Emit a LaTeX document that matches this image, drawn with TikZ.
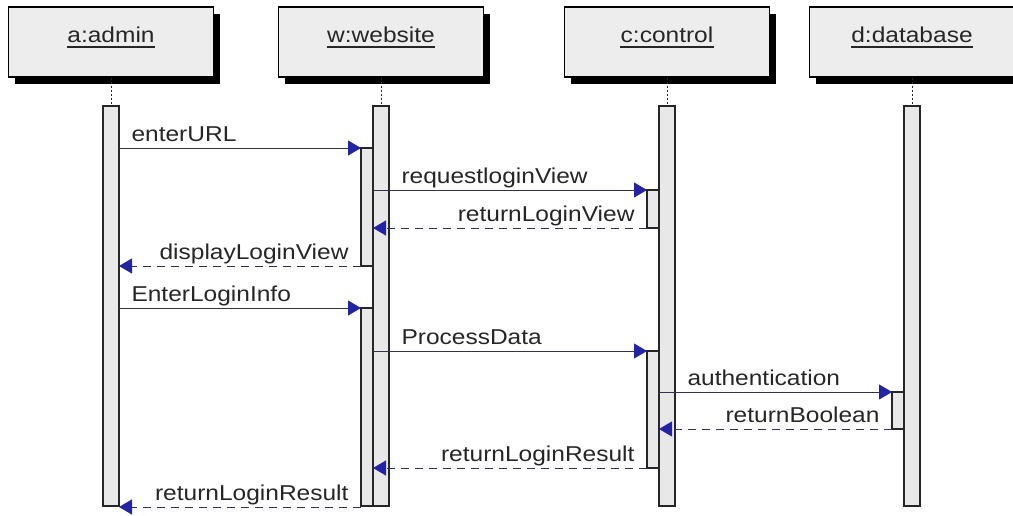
\documentclass[tikz,border=0pt]{standalone}
\usepackage{fontspec}
\setmainfont{Liberation Sans}[FakeStretch=1.14]
\usetikzlibrary{arrows.meta, calc}

\definecolor{msgline}{HTML}{33334D}
\definecolor{tipblue}{HTML}{2323A6}
\definecolor{headfill}{HTML}{EDEDED}
\definecolor{barfill}{HTML}{E8E8E8}
\definecolor{inkgray}{HTML}{262626}

\tikzset{
	head/.style={draw=black, line width=1.3pt, fill=headfill, minimum width=205pt, minimum height=70pt, inner sep=0pt},
	headname/.style={anchor=base, inner sep=0pt, text=inkgray},
	life/.style={draw=inkgray, line width=1pt, dash pattern=on 2pt off 2pt},
	bar/.style={draw=inkgray, line width=1.2pt, fill=barfill},
	msg/.style={draw=msgline, line width=1pt, -{Triangle[length=13pt, width=15pt, color=tipblue, fill=tipblue]}},
	ret/.style={msg, dash pattern=on 8pt off 6pt},
	fwd/.style={anchor=base west, inner sep=0pt, text=inkgray, pos=0, xshift=12pt, yshift=7pt},
	back/.style={anchor=base east, inner sep=0pt, text=inkgray, pos=0, xshift=-12pt, yshift=7pt}
}

\begin{document}
\begin{tikzpicture}[x=1pt, y=-1pt, font=\fontsize{21.5pt}{24pt}\selectfont]
	\def\xa{111}
	\def\xw{381}
	\def\xc{667}
	\def\xd{912}
	\def\hw{102.5}
	\def\sh{6.5}
	\def\bot{506}

	\useasboundingbox (0,0) rectangle (1013,515);

	% heads with shadow
	\fill[black] ({\xa-\hw+\sh},{7+\sh}) rectangle ({\xa+\hw+\sh},{77+\sh});
	\fill[black] ({\xw-\hw+\sh},{7+\sh}) rectangle ({\xw+\hw+\sh},{77+\sh});
	\fill[black] ({\xc-\hw+\sh},{7+\sh}) rectangle ({\xc+\hw+\sh},{77+\sh});
	\fill[black] ({\xd-\hw+\sh},{7+\sh}) rectangle ({\xd+\hw+\sh},{77+\sh});
	\node[head] (adminbox) at (\xa,42) {};
	\node[head] (webbox) at (\xw,42) {};
	\node[head] (ctrlbox) at (\xc,42) {};
	\node[head] (dbbox) at (\xd,42) {};

	\node[headname] (adminname) at (\xa,42) {a:admin};
	\node[headname] (webname) at (\xw,42) {w:website};
	\node[headname] (ctrlname) at (\xc,42) {c:control};
	\node[headname] (dbname) at (\xd,42) {d:database};
	\draw[inkgray, line width=1.5pt] ($(adminname.base west)+(0,5)$) -- ($(adminname.base east)+(0,5)$);
	\draw[inkgray, line width=1.5pt] ($(webname.base west)+(0,5)$) -- ($(webname.base east)+(0,5)$);
	\draw[inkgray, line width=1.5pt] ($(ctrlname.base west)+(0,5)$) -- ($(ctrlname.base east)+(0,5)$);
	\draw[inkgray, line width=1.5pt] ($(dbname.base west)+(0,5)$) -- ($(dbname.base east)+(0,5)$);

	% lifelines
	\draw[life] (adminbox.south) -- (\xa,106);
	\draw[life] (webbox.south) -- (\xw,106);
	\draw[life] (ctrlbox.south) -- (\xc,106);
	\draw[life] (dbbox.south) -- (\xd,106);

	% activations
	\draw[bar] ({\xw-20},148) rectangle ({\xw-8},266);
	\draw[bar] ({\xw-20},308) rectangle ({\xw-8},\bot);
	\draw[bar] ({\xc-20},190) rectangle ({\xc-8},228);
	\draw[bar] ({\xc-20},351) rectangle ({\xc-8},468);
	\draw[bar] ({\xd-20},392) rectangle ({\xd-8},429);
	\draw[bar] ({\xa-8},106) rectangle ({\xa+8},\bot);
	\draw[bar] ({\xw-8},106) rectangle ({\xw+8},\bot);
	\draw[bar] ({\xc-8},106) rectangle ({\xc+8},\bot);
	\draw[bar] ({\xd-8},106) rectangle ({\xd+8},\bot);

	% message ends
	\coordinate (a1) at ({\xa+8},148);
	\coordinate (w1) at ({\xw-20},148);
	\coordinate (w2) at ({\xw-8},190);
	\coordinate (c2) at ({\xc-20},190);
	\coordinate (c3) at ({\xc-20},228);
	\coordinate (w3) at ({\xw-8},228);
	\coordinate (w4) at ({\xw-20},266);
	\coordinate (a4) at ({\xa+8},266);
	\coordinate (a5) at ({\xa+8},308);
	\coordinate (w5) at ({\xw-20},308);
	\coordinate (w6) at ({\xw-8},351);
	\coordinate (c6) at ({\xc-20},351);
	\coordinate (c7) at ({\xc-8},392);
	\coordinate (d7) at ({\xd-20},392);
	\coordinate (d8) at ({\xd-20},429);
	\coordinate (c8) at ({\xc-8},429);
	\coordinate (c9) at ({\xc-20},468);
	\coordinate (w9) at ({\xw-8},468);
	\coordinate (w10) at ({\xw-20},507);
	\coordinate (a10) at ({\xa+8},507);

	% messages
	\draw[msg] (a1) -- node[fwd] {enterURL} (w1);
	\draw[msg] (w2) -- node[fwd, xshift=16pt] {requestloginView} (c2);
	\draw[ret] (c3) -- node[back] {returnLoginView} (w3);
	\draw[ret] (w4) -- node[back] {displayLoginView} (a4);
	\draw[msg] (a5) -- node[fwd] {EnterLoginInfo} (w5);
	\draw[msg] (w6) -- node[fwd, xshift=16pt] {ProcessData} (c6);
	\draw[msg] (c7) -- node[fwd, xshift=16pt] {authentication} (d7);
	\draw[ret] (d8) -- node[back] {returnBoolean} (c8);
	\draw[ret] (c9) -- node[back] {returnLoginResult} (w9);
	\draw[ret] (w10) -- node[back] {returnLoginResult} (a10);
\end{tikzpicture}
\end{document}
